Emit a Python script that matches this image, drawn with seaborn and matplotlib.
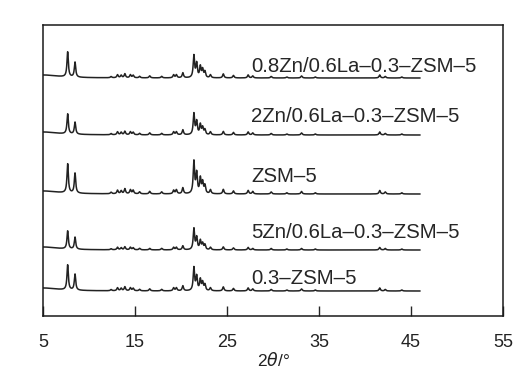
import numpy as np
import pandas as pd
import matplotlib
matplotlib.use("Agg")
import matplotlib.pyplot as plt
import seaborn as sns

# ---- data ----
samples = ["0.8Zn/0.6La\u20130.3\u2013ZSM\u20135", "2Zn/0.6La\u20130.3\u2013ZSM\u20135", "ZSM\u20135",
           "5Zn/0.6La\u20130.3\u2013ZSM\u20135", "0.3\u2013ZSM\u20135"]
offsets = [238, 181, 122, 66, 25]
label_y = [249, 199, 139, 83, 37]
peak_pos = [7.68, 8.48, 12.4, 13.1, 13.5, 13.9, 14.5, 14.8, 15.5, 16.6, 17.9, 19.2, 19.5, 20.2,
            21.4, 21.7, 22.1, 22.35, 22.6, 23.2, 24.6, 25.7, 27.3, 27.8, 29.8, 31.5, 33.1, 34.6,
            41.6, 42.2, 44.0]
h_08Zn = [25, 15, 1.2, 3, 2.5, 4, 3, 2.5, 1.5, 2, 1.5, 3, 3, 5, 22, 14, 11, 8, 6, 3, 4, 2.5, 3, 2, 1.5, 1.0, 2, 1.0, 3, 1.5, 1.0]
h_2Zn = [20, 12, 1.2, 3, 2.5, 3.5, 3, 2.5, 1.5, 2, 1.5, 3, 3, 5, 21, 13, 10, 7, 5, 3, 3.5, 2.5, 3, 2, 1.5, 1.0, 2, 1.0, 3, 1.5, 1.0]
h_ZSM = [29, 20, 1.5, 3.5, 3, 5, 4, 3.5, 2, 2.5, 2, 3.5, 4, 6, 32, 20, 15, 11, 8, 4, 4.5, 3, 3.5, 2.5, 2, 1.2, 2.5, 1.2, 3.5, 2, 1.2]
h_5Zn = [18, 12, 1.0, 2.5, 2, 3, 2.5, 2, 1.5, 1.5, 1.5, 2.5, 2.5, 4, 21, 12, 9, 6, 5, 2.5, 3, 2, 2.5, 1.5, 1.5, 1.0, 1.5, 1.0, 2.5, 1.5, 1.0]
h_03 = [25, 16, 1.2, 3, 2.5, 4, 3, 2.5, 1.5, 2, 1.5, 3, 3, 5, 23, 14, 11, 8, 6, 3, 4, 2.5, 3, 2, 1.5, 1.0, 2, 1.0, 3, 1.5, 1.0]
heights = [h_08Zn, h_2Zn, h_ZSM, h_5Zn, h_03]
x_ticks = [5, 15, 25, 35, 45, 55]

# ---- build patterns from peak list ----
two_theta = np.arange(5.0, 46.0, 0.01)
hw = 0.09
rows = []
for name, off, hs in zip(samples, offsets, heights):
    y = np.full_like(two_theta, float(off))
    y += 3.0 / (1 + ((two_theta - 5.0) / 2.0) ** 2)
    for p, h in zip(peak_pos, hs):
        y += h / (1 + ((two_theta - p) / hw) ** 2)
    rows.append(pd.DataFrame({"two_theta": two_theta, "I": y, "sample": name}))
df = pd.concat(rows, ignore_index=True)

sns.set_theme(style="ticks")
plt.rcParams['font.family'] = ['Liberation Sans', 'DejaVu Sans']

fig = plt.figure(figsize=(5.26, 3.81), dpi=100)
ax = fig.add_axes([43 / 526, 1 - 316 / 381, (503 - 43) / 526, (316 - 25) / 381])
sns.lineplot(data=df, x="two_theta", y="I", hue="sample", palette=["#222222"] * 5,
             estimator=None, sort=False, linewidth=1.1, legend=False, ax=ax)

for name, ly in zip(samples, label_y):
    ax.text(27.6, ly, name, fontsize=14.7, color="#262626", va="center", ha="left")

ax.set_xlim(5, 55)
ax.set_ylim(0, 291)
ax.set_xticks(x_ticks)
ax.set_xticklabels([str(t) for t in x_ticks], fontsize=13, color="#222222")
ax.set_yticks([])
ax.set_ylabel("")
ax.set_xlabel(r"2$\theta$/°", fontsize=12.5, color="#222222", labelpad=0)
ax.tick_params(axis="x", direction="in", length=7, width=1, pad=13, top=False)
for s in ax.spines.values():
    s.set_visible(True)
    s.set_linewidth(1.1)
    s.set_color("#1a1a1a")

fig.savefig("out.png", dpi=100)
